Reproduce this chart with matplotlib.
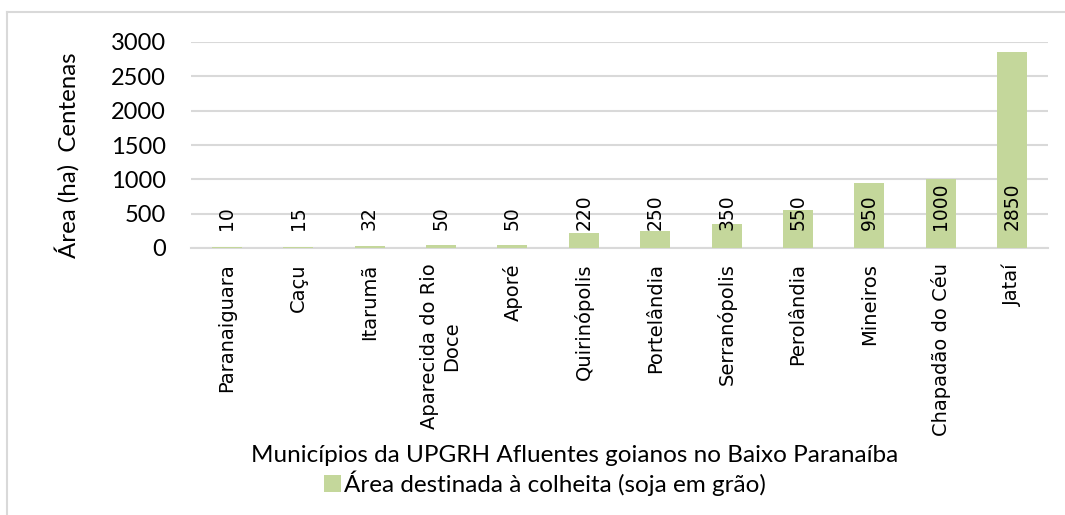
import matplotlib
matplotlib.use("Agg")
import matplotlib.pyplot as plt
from matplotlib.lines import Line2D

# data
municipios = ["Paranaiguara", "Caçu", "Itarumã", "Aparecida do Rio\nDoce", "Aporé",
              "Quirinópolis", "Portelândia", "Serranópolis", "Perolândia",
              "Mineiros", "Chapadão do Céu", "Jataí"]
area_colhida = [10, 15, 32, 50, 50, 220, 250, 350, 550, 950, 1000, 2850]
y_ticks = [0, 500, 1000, 1500, 2000, 2500, 3000]

BAR_COLOR = "#C4D79B"
GRID_COLOR = "#D9D9D9"
MAIN_FONT = "Lato"
ROT_FONT = "DejaVu Sans"

W, H = 1065, 515
fig = plt.figure(figsize=(W / 100, H / 100), dpi=100)
ax = fig.add_axes([191 / W, 1 - 248 / H, (1048 - 191) / W, (248 - 42) / H])

x = range(len(municipios))
ax.bar(x, area_colhida, width=0.42, color=BAR_COLOR, zorder=3,
       label="Área destinada à colheita (soja em grão)")

# value labels, "inside base" style
for i, v in zip(x, area_colhida):
    ax.annotate(str(v), xy=(i, 0), xytext=(0, 13), textcoords="offset points",
                rotation=90, ha="center", va="bottom", fontsize=13.5,
                family=ROT_FONT, color="black", zorder=4)

ax.set_xlim(-0.5, len(municipios) - 0.5)
ax.set_ylim(0, 3000)
ax.set_yticks(y_ticks)
ax.set_yticklabels([str(t) for t in y_ticks], family=MAIN_FONT, fontsize=17)
ax.set_xticks(list(x))
ax.set_xticklabels(municipios, rotation=90, family=ROT_FONT, fontsize=14,
                   multialignment="center")
ax.tick_params(axis="y", length=0, pad=18)
ax.tick_params(axis="x", length=0, pad=11)
ax.grid(axis="y", color=GRID_COLOR, lw=1.5, zorder=0)
for side in ("top", "right", "left"):
    ax.spines[side].set_visible(False)
ax.spines["bottom"].set_color(GRID_COLOR)
ax.spines["bottom"].set_linewidth(1.5)

fig.text(67 / W, 1 - 155 / H, "Área (ha)  Centenas", rotation=90,
         ha="center", va="center", family=MAIN_FONT, fontsize=17.3)
fig.text(575 / W, 1 - 456 / H,
         "Municípios da UPGRH Afluentes goianos no Baixo Paranaíba",
         ha="center", va="center", family=MAIN_FONT, fontsize=17.5)

leg = fig.legend(loc="center", bbox_to_anchor=(545 / W, 1 - 483 / H),
                 frameon=False, handlelength=0.7, handleheight=0.7,
                 handletextpad=0.15, borderpad=0,
                 prop={"family": MAIN_FONT, "size": 17.5})

# chart border (cropped: only top and left edges visible)
fig.add_artist(Line2D([7 / W, 1], [1 - 12 / H, 1 - 12 / H], color=GRID_COLOR,
                      lw=1.5, transform=fig.transFigure))
fig.add_artist(Line2D([7 / W, 7 / W], [0, 1 - 12 / H], color=GRID_COLOR,
                      lw=1.5, transform=fig.transFigure))

fig.savefig("out.png", dpi=100)
